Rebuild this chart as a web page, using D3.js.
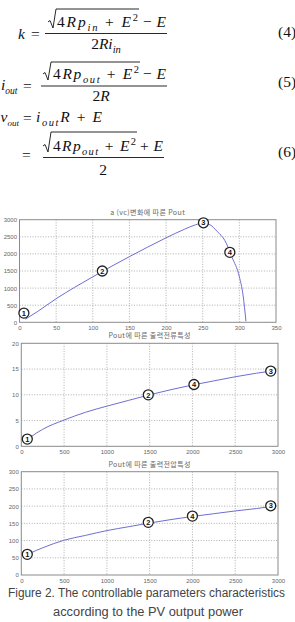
<!DOCTYPE html>
<html>
<head>
<meta charset="utf-8">
<script src="https://cdn.jsdelivr.net/npm/d3@7"></script>
<style>
body { margin: 0; background: #fff; }
svg { display: block; }
</style>
</head>
<body>
<div id="fig"></div>
<script>
// chart 1: a(vc) vs Pout
const vcValues = [8, 25, 50, 75, 100, 125, 150, 175, 200, 225, 240, 250, 260, 270, 280, 290, 300, 305, 309];
const poutValues = [90, 320, 690, 1020, 1330, 1630, 1920, 2200, 2470, 2720, 2850, 2900, 2850, 2650, 2400, 1900, 1330, 800, 30];
const vcTicks = [0, 50, 100, 150, 200, 250, 300, 350];
const poutTicks = [0, 500, 1000, 1500, 2000, 2500, 3000];
const markers1 = [{ n: 1, x: 6, y: 270 }, { n: 2, x: 113, y: 1500 }, { n: 3, x: 251, y: 2910 }, { n: 4, x: 287, y: 2045 }];

// charts 2 and 3: output current / voltage vs Pout
const powerValues = [60, 100, 250, 500, 750, 1000, 1250, 1500, 1750, 2000, 2250, 2500, 2750, 2920];
const currentValues = [1.2, 1.7, 3.3, 5.1, 6.6, 7.8, 8.9, 10.0, 11.0, 11.9, 12.7, 13.5, 14.2, 14.6];
const voltageValues = [58, 63, 79, 101, 115, 129, 140, 151, 161, 170, 178, 186, 193, 199];
const powerTicks = [0, 500, 1000, 1500, 2000, 2500, 3000];
const currentTicks = [0, 5, 10, 15, 20];
const voltageTicks = [0, 50, 100, 150, 200, 250, 300];
const markers2 = [{ n: 1, x: 70, y: 1.4 }, { n: 2, x: 1484, y: 10.0 }, { n: 4, x: 2018, y: 12.0 }, { n: 3, x: 2915, y: 14.6 }];
const markers3 = [{ n: 1, x: 70, y: 60 }, { n: 2, x: 1484, y: 153 }, { n: 4, x: 2000, y: 171 }, { n: 3, x: 2915, y: 201 }];

const titles = ["a (vc)변화에 따른 Pout", "Pout에 따른 출력전류특성", "Pout에 따른 출력전압특성"];

const W = 295, H = 622;
const svg = d3.select("#fig").append("svg").attr("width", W).attr("height", H);

// ---------- equations ----------
const eqG = svg.append("g")
    .attr("font-family", "'Liberation Serif', 'DejaVu Serif', serif")
    .attr("font-size", 15.5)
    .attr("fill", "#111");

// parts: [text, kind]  kind: r roman, i italic, sub italic subscript, sup roman superscript
function mathText(x, y, parts, width, anchor, subSize) {
    const t = eqG.append("text").attr("x", x).attr("y", y).attr("text-anchor", anchor || "start");
    let shift = 0;
    parts.forEach(([s, kind]) => {
        const target = kind === "sub" ? 3.5 : kind === "sup" ? -6 : 0;
        const ts = t.append("tspan").text(s).attr("dy", target - shift);
        shift = target;
        if (kind === "sub" || kind === "sup") ts.attr("font-size", subSize || 10.5);
        if (kind === "i" || kind === "sub") ts.attr("font-style", "italic");
    });
    if (width) t.attr("textLength", width).attr("lengthAdjust", "spacing");
    return t;
}

function radical(x0, x1, top, base) {
    eqG.append("path")
        .attr("d", `M${x0 - 9},${base - 5} L${x0 - 7},${base - 6.5} L${x0 - 4},${base + 1} L${x0 - 1},${top} L${x1},${top}`)
        .attr("fill", "none").attr("stroke", "#111").attr("stroke-width", 0.9);
}
function fracLine(x0, x1, y) {
    eqG.append("line").attr("x1", x0).attr("x2", x1).attr("y1", y).attr("y2", y)
        .attr("stroke", "#111").attr("stroke-width", 0.9);
}

// (4)
mathText(18, 39, [["k", "i"]]);
mathText(31, 39, [["=", "r"]]);
mathText(57, 27, [["4", "r"], ["Rp", "i"], ["in", "sub"], [" + ", "r"], ["E", "i"], ["2", "sup"]], 81);
mathText(143, 27, [["− ", "r"], ["E", "i"]], 23);
radical(57, 139, 9, 27);
fracLine(45, 167, 33.5);
mathText(106, 49, [["2", "r"], ["Ri", "i"], ["in", "sub"]], null, "middle");
mathText(278, 37, [["(4)", "r"]]);

// (5)
mathText(1, 90, [["i", "i"], ["out", "sub"]], null, null, 9.5);
mathText(23, 91, [["=", "r"]]);
mathText(53, 79, [["4", "r"], ["Rp", "i"], ["out", "sub"], [" + ", "r"], ["E", "i"], ["2", "sup"]], 86);
mathText(143, 79, [["− ", "r"], ["E", "i"]], 23);
radical(52, 140, 62, 79);
fracLine(41, 167, 86);
mathText(101, 101, [["2", "r"], ["R", "i"]], null, "middle");
mathText(278, 87, [["(5)", "r"]]);

// (6)
mathText(0.5, 122, [["v", "i"], ["out", "sub"]], null, null, 9);
mathText(23, 123, [["=", "r"]]);
mathText(36, 122, [["i", "i"], ["out", "sub"], ["R", "i"], [" + ", "r"], ["E", "i"]], 66);
mathText(22, 160, [["=", "r"]]);
mathText(53, 151, [["4", "r"], ["Rp", "i"], ["out", "sub"], [" + ", "r"], ["E", "i"], ["2", "sup"]], 83);
mathText(140, 151, [["+ ", "r"], ["E", "i"]], 23);
radical(52, 137, 132, 151);
fracLine(43, 164, 157.5);
mathText(103, 175, [["2", "r"]], null, "middle");
mathText(278, 157, [["(6)", "r"]]);

// ---------- charts ----------
function drawChart(cfg) {
    const x = d3.scaleLinear().domain(cfg.xDomain).range([cfg.left, cfg.right]);
    const y = d3.scaleLinear().domain(cfg.yDomain).range([cfg.bottom, cfg.top]);
    const g = svg.append("g").attr("font-family", "'Liberation Sans', Arial, sans-serif");

    // grid
    g.append("g").selectAll("line").data(cfg.xTicks.slice(1, -1)).join("line")
        .attr("x1", d => x(d)).attr("x2", d => x(d))
        .attr("y1", cfg.top).attr("y2", cfg.bottom)
        .attr("stroke", "#9a9a9a").attr("stroke-width", 0.8).attr("stroke-dasharray", "1,1.6");
    g.append("g").selectAll("line").data(cfg.yTicks.slice(1, -1)).join("line")
        .attr("x1", cfg.left).attr("x2", cfg.right)
        .attr("y1", d => y(d)).attr("y2", d => y(d))
        .attr("stroke", "#9a9a9a").attr("stroke-width", 0.8).attr("stroke-dasharray", "1,1.6");

    // axes (labels only, matlab style box)
    const xa = g.append("g").attr("transform", `translate(0,${cfg.bottom})`)
        .call(d3.axisBottom(x).tickValues(cfg.xTicks).tickFormat(d3.format("d")).tickSize(0).tickPadding(3.5));
    const ya = g.append("g").attr("transform", `translate(${cfg.left},0)`)
        .call(d3.axisLeft(y).tickValues(cfg.yTicks).tickFormat(d3.format("d")).tickSize(0).tickPadding(2.5));
    [xa, ya].forEach(a => {
        a.select(".domain").remove();
        a.selectAll("text").attr("font-size", 6).attr("fill", "#666").attr("font-family", null);
    });

    // box
    g.append("rect").attr("x", cfg.left).attr("y", cfg.top)
        .attr("width", cfg.right - cfg.left).attr("height", cfg.bottom - cfg.top)
        .attr("fill", "none").attr("stroke", "#8a8a8a").attr("stroke-width", 1);

    // curve
    const pts = cfg.xs.map((v, i) => [v, cfg.ys[i]]);
    g.append("path").datum(pts)
        .attr("d", d3.line().x(d => x(d[0])).y(d => y(d[1])).curve(d3.curveMonotoneX))
        .attr("fill", "none").attr("stroke", "#6e6ed2").attr("stroke-width", 1);

    // title
    g.append("text").attr("x", (cfg.left + cfg.right) / 2).attr("y", cfg.top - 5)
        .attr("text-anchor", "middle").attr("font-size", 7).attr("fill", "#666")
        .attr("letter-spacing", 0.4)
        .attr("font-family", "'Noto Sans CJK KR', 'Noto Sans', sans-serif")
        .text(cfg.title);

    // numbered markers
    const m = g.append("g").selectAll("g").data(cfg.markers).join("g")
        .attr("transform", d => `translate(${x(d.x)},${y(d.y)})`);
    m.append("circle").attr("r", 5).attr("fill", "#fff").attr("stroke", "#222").attr("stroke-width", 1.3);
    m.append("text").attr("text-anchor", "middle").attr("dy", "0.36em")
        .attr("font-size", 7.5).attr("font-weight", "bold").attr("fill", "#111")
        .text(d => d.n);
}

drawChart({
    xDomain: [0, 350], yDomain: [0, 3000], left: 19.5, right: 276, top: 219.7, bottom: 322.3,
    xTicks: vcTicks, yTicks: poutTicks, xs: vcValues, ys: poutValues, markers: markers1, title: titles[0]
});
drawChart({
    xDomain: [0, 3000], yDomain: [0, 20], left: 21.3, right: 278, top: 343.3, bottom: 446.3,
    xTicks: powerTicks, yTicks: currentTicks, xs: powerValues, ys: currentValues, markers: markers2, title: titles[1]
});
drawChart({
    xDomain: [0, 3000], yDomain: [0, 300], left: 21.3, right: 278, top: 471.7, bottom: 575,
    xTicks: powerTicks, yTicks: voltageTicks, xs: powerValues, ys: voltageValues, markers: markers3, title: titles[2]
});

// ---------- caption ----------
const cap = svg.append("g").attr("font-family", "'Liberation Sans', Arial, sans-serif")
    .attr("font-size", 12).attr("fill", "#444");
cap.append("text").attr("x", 8).attr("y", 597)
    .attr("textLength", 277).attr("lengthAdjust", "spacingAndGlyphs")
    .text("Figure 2. The controllable parameters characteristics");
cap.append("text").attr("x", 53).attr("y", 616)
    .attr("textLength", 190).attr("lengthAdjust", "spacingAndGlyphs")
    .text("according to the PV output power");
</script>
</body>
</html>
